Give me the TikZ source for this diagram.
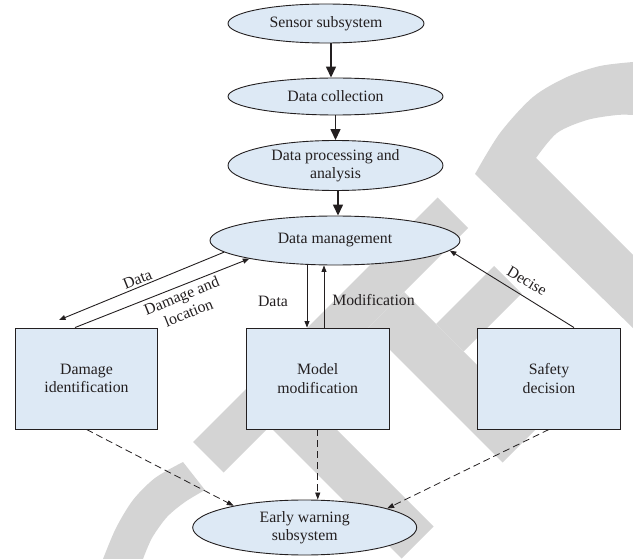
\documentclass[tikz,border=0pt]{standalone}
\usepackage{fontspec}
\setmainfont{Liberation Serif}
\usetikzlibrary{shapes.geometric,arrows.meta}
\definecolor{nodefill}{RGB}{221,233,245}
\definecolor{inkc}{RGB}{35,31,32}
\definecolor{wmgray}{RGB}{212,212,212}
\begin{document}
\begin{tikzpicture}[x=1pt,y=-1pt,
  txt/.style={font=\fontsize{15.8}{18.5}\selectfont, text=inkc},
  oval/.style={ellipse, draw=inkc, line width=0.9pt, fill=nodefill, inner sep=0pt, align=center, txt},
  blk/.style={rectangle, draw=inkc, line width=0.9pt, fill=nodefill, inner sep=0pt, align=center, txt, minimum width=142.5pt, minimum height=101pt},
  bigarrow/.style={draw=inkc, line width=1.4pt, -{Triangle[length=11pt,width=10pt]}},
  thinarrow/.style={draw=inkc, line width=0.9pt, -{Triangle[length=6.5pt,width=5pt]}},
  dasharrow/.style={draw=inkc, line width=0.8pt, dash pattern=on 7pt off 4pt, -{Triangle[length=7pt,width=5pt]}},
  lbl/.style={txt, inner sep=0pt, align=center},
  wmark/.style={fill=wmgray, draw=none}
]
\useasboundingbox (0,0) rectangle (633,559);

% watermark (background)
\begin{scope}
\clip (0,0) rectangle (633,559);
\fill[wmark] (193,442) -- (223.5,472.5) -- (468,228) -- (437.5,197.5) -- cycle;
\fill[wmark] (269.5,426.5) -- (301.5,394.5) -- (433.5,526.5) -- (401.5,558.5) -- cycle;
\fill[wmark] (368,328) -- (404,292) -- (538.5,426.5) -- (502.5,462.5) -- cycle;
\fill[wmark] (436,324) -- (494,266) -- (521.5,293.5) -- (463.5,351.5) -- cycle;
\fill[wmark] (508,396) -- (574.5,329.5) -- (605,360) -- (538.5,426.5) -- cycle;
\fill[wmark] plot[smooth] coordinates {(475,174) (500,133) (533,97) (567,77) (600,66) (633,62)}
   -- (633,115) -- plot[smooth] coordinates {(633,115) (617,115) (587,120) (557,133) (536,158)}
   -- (633,255) -- (633,328) -- cycle;
\fill[wmark] plot[smooth] coordinates {(183,462) (155,478) (133,500) (116,528) (103,559)}
   -- (143,559) -- plot[smooth] coordinates {(143,559) (152,538) (167,517) (185,502) (205,490)} -- cycle;
\end{scope}

% nodes
\node[oval, minimum width=196pt, minimum height=39pt] (sen) at (326,23.5) {Sensor subsystem};
\node[oval, minimum width=215pt, minimum height=37pt] (col) at (335.5,96.5) {Data collection};
\node[oval, minimum width=215pt, minimum height=50pt] (pro) at (335.5,165.5) {Data processing and\\analysis};
\node[oval, minimum width=250pt, minimum height=49pt] (man) at (335,240.5) {Data management};
\node[blk] (dam) at (86.5,378.5) {Damage\\identification};
\node[blk] (mod) at (317.75,378.5) {Model\\modification};
\node[blk] (saf) at (549,378.5) {Safety\\decision};
\node[oval, minimum width=224pt, minimum height=55pt] (ew) at (304.7,527.5) {Early warning\\subsystem};
\coordinate (dtip) at (59,320);

% connectors
\draw[bigarrow] ([xshift=5pt]sen.south) -- ([xshift=-4.5pt]col.north);
\draw[bigarrow] (col.south) -- (pro.north);
\draw[bigarrow] ([xshift=2.5pt]pro.south) -- ([xshift=3pt]man.north);
\draw[thinarrow] (man.186) -- (dtip);
\draw[thinarrow] ([xshift=-11.5pt]dam.north) -- (man.192);
\draw[thinarrow] ([xshift=-28pt]man.south) -- ([xshift=-10.75pt]mod.north);
\draw[thinarrow] ([xshift=6.25pt]mod.north) -- ([xshift=-11pt]man.south);
\draw[thinarrow] ([xshift=25pt]saf.north) -- (man.355);
\draw[dasharrow] (dam.south) -- (ew.163);
\draw[dasharrow] (mod.south) -- (mod.south |- ew.north);
\draw[dasharrow] (saf.south) -- (ew.13);

% labels
\node[lbl, rotate=22] (l1) at (137.5,279.5) {Data};
\node[lbl, rotate=22] (l2) at (185,304) {Damage and\\location};
\node[lbl] (l3) at (273,301) {Data};
\node[lbl] (l4) at (373.5,300.5) {Modification};
\node[lbl, rotate=-31] (l5) at (527,281) {Decise};
\end{tikzpicture}
\end{document}
